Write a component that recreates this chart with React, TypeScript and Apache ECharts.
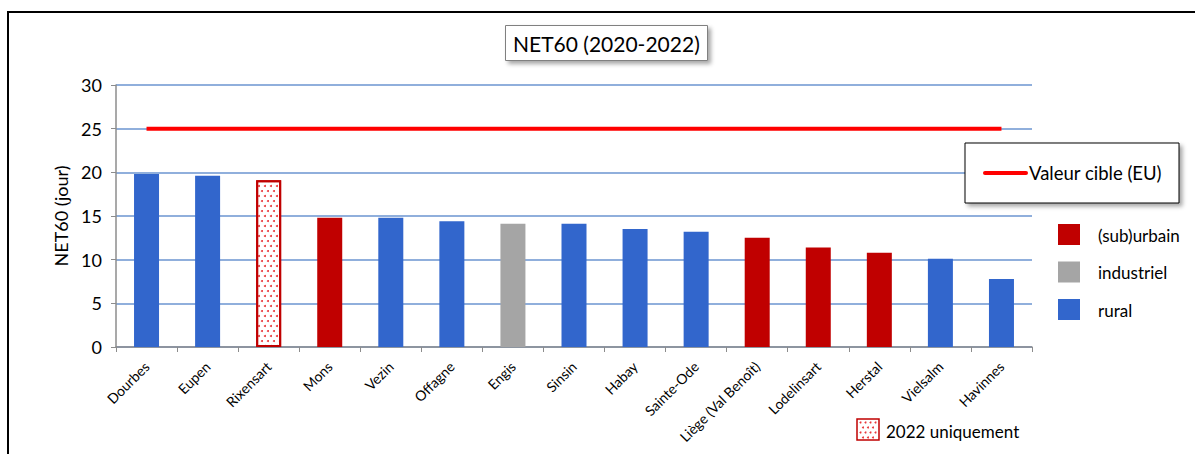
import React, { useEffect, useRef } from "react";
import * as echarts from "echarts";

const chartTitle = "NET60 (2020-2022)";
const yAxisName = "NET60 (jour)";
const categories = [
  "Dourbes", "Eupen", "Rixensart", "Mons", "Vezin", "Offagne", "Engis", "Sinsin",
  "Habay", "Sainte-Ode", "Liège (Val Benoît)", "Lodelinsart", "Herstal", "Vielsalm", "Havinnes",
];
const values = [19.8, 19.6, 19.1, 14.8, 14.8, 14.4, 14.1, 14.1, 13.5, 13.2, 12.5, 11.4, 10.8, 10.1, 7.8];
const stationTypes = [
  "rural", "rural", "suburbain", "suburbain", "rural", "rural", "industriel", "rural",
  "rural", "rural", "suburbain", "suburbain", "suburbain", "rural", "rural",
];
const only2022 = [false, false, true, false, false, false, false, false, false, false, false, false, false, false, false];
const targetName = "Valeur cible (EU)";
const targetValue = 25;
const yMin = 0;
const yMax = 30;
const yInterval = 5;
const typeLegend = [
  { key: "suburbain", label: "(sub)urbain" },
  { key: "industriel", label: "industriel" },
  { key: "rural", label: "rural" },
];
const patternLabel = "2022 uniquement";

const typeColors: Record<string, string> = {
  suburbain: "#c00000",
  industriel: "#a5a5a5",
  rural: "#3266cc",
};

const FONT = "Lato, 'Noto Sans', sans-serif";

export default function App() {
  const ref = useRef<HTMLDivElement>(null);
  useEffect(() => {
    if (!ref.current) return;
    const chart = echarts.init(ref.current, null, { renderer: "svg" });

    const barData = values.map((v, i) => {
      if (only2022[i]) {
        return {
          value: v,
          itemStyle: {
            color: "#ffffff",
            borderColor: typeColors[stationTypes[i]],
            borderWidth: 2,
            decal: {
              symbol: "circle",
              symbolSize: 1,
              color: "#e8383b",
              dashArrayX: [[2, 4], [0, 3, 2, 1]],
              dashArrayY: [2, 3],
              rotation: 0,
            },
          },
        };
      }
      return { value: v, itemStyle: { color: typeColors[stationTypes[i]] } };
    });

    // legend swatch dots (decoration)
    const dots: any[] = [];
    const sx = 857, sy = 419;
    for (let r = 0; r < 4; r++) {
      for (let c = 0; c < 4; c++) {
        const x = sx + 3.5 + c * 5 + (r % 2 ? 2.5 : 0);
        const y = sy + 3.5 + r * 5;
        if (x < sx + 21) dots.push({ type: "circle", shape: { cx: x, cy: y, r: 1 }, style: { fill: "#e8383b" }, z: 101 });
      }
    }

    const legendGraphics: any[] = [];
    typeLegend.forEach((t, i) => {
      const y = 224 + i * 37.5;
      legendGraphics.push({
        type: "rect",
        shape: { x: 1058, y, width: 22, height: 21 },
        style: { fill: typeColors[t.key] },
        z: 100,
      });
      legendGraphics.push({
        type: "text",
        x: 1098,
        y: y + 11,
        style: { text: t.label, fill: "#000", font: `17px ${FONT}`, textVerticalAlign: "middle" },
        z: 100,
      });
    });

    chart.setOption({
      animation: false,
      backgroundColor: "#ffffff",
      title: {
        text: chartTitle,
        left: 505,
        top: 25,
        padding: [8, 8, 7, 8],
        backgroundColor: "#ffffff",
        borderColor: "#808080",
        borderWidth: 1,
        shadowBlur: 4,
        shadowOffsetX: 3,
        shadowOffsetY: 3,
        shadowColor: "rgba(0,0,0,0.35)",
        textStyle: { fontFamily: FONT, fontSize: 21, fontWeight: "normal", color: "#000" },
      },
      grid: { left: 116, right: 163, top: 85, bottom: 107 },
      xAxis: {
        type: "category",
        data: categories,
        boundaryGap: true,
        axisLine: { lineStyle: { color: "#8c8c8c", width: 1.5 } },
        axisTick: { show: true, length: 5, alignWithLabel: false, lineStyle: { color: "#8c8c8c" } },
        axisLabel: { rotate: 45, fontSize: 14, fontFamily: FONT, color: "#000", margin: 17, interval: 0 },
      },
      yAxis: {
        type: "value",
        min: yMin,
        max: yMax,
        interval: yInterval,
        name: yAxisName,
        nameLocation: "middle",
        nameGap: 45,
        nameRotate: 90,
        nameTextStyle: { fontFamily: FONT, fontSize: 18, color: "#000" },
        axisLine: { show: true, lineStyle: { color: "#8c8c8c", width: 1.5 } },
        axisTick: { show: true, length: 5, lineStyle: { color: "#8c8c8c" } },
        axisLabel: { fontFamily: FONT, fontSize: 18, color: "#000", margin: 14 },
        splitLine: { lineStyle: { color: "#6b95d1", width: 1.6 } },
      },
      series: [
        {
          type: "bar",
          data: barData,
          barWidth: 25,
          z: 2,
        },
        {
          type: "line",
          name: targetName,
          data: categories.map(() => targetValue),
          symbol: "none",
          lineStyle: { color: "#ff0000", width: 4 },
          z: 3,
        },
      ],
      graphic: [
        {
          type: "rect",
          shape: { x: 8, y: 12, width: 1200, height: 460 },
          style: { fill: "none", stroke: "#000", lineWidth: 2 },
          z: 100,
        },
        {
          type: "rect",
          shape: { x: 965, y: 143, width: 214, height: 60 },
          style: {
            fill: "#fff",
            stroke: "#000",
            lineWidth: 1,
            shadowBlur: 4,
            shadowOffsetX: 3,
            shadowOffsetY: 3,
            shadowColor: "rgba(0,0,0,0.35)",
          },
          z: 100,
        },
        {
          type: "line",
          shape: { x1: 985, y1: 173, x2: 1026, y2: 173 },
          style: { stroke: "#ff0000", lineWidth: 4, lineCap: "round" },
          z: 101,
        },
        {
          type: "text",
          x: 1029,
          y: 173,
          style: { text: targetName, fill: "#000", font: `18.5px ${FONT}`, textVerticalAlign: "middle" },
          z: 101,
        },
        ...legendGraphics,
        {
          type: "rect",
          shape: { x: 857, y: 419, width: 22, height: 21 },
          style: { fill: "#fff", stroke: "#c00000", lineWidth: 1.5 },
          z: 100,
        },
        ...dots,
        {
          type: "text",
          x: 886,
          y: 431,
          style: { text: patternLabel, fill: "#000", font: `17px ${FONT}`, textVerticalAlign: "middle" },
          z: 101,
        },
      ],
    });
    return () => chart.dispose();
  }, []);

  return (
    <div
      ref={ref}
      style={{ position: "fixed", left: 0, top: 0, width: 1195, height: 454, background: "#fff" }}
    />
  );
}
